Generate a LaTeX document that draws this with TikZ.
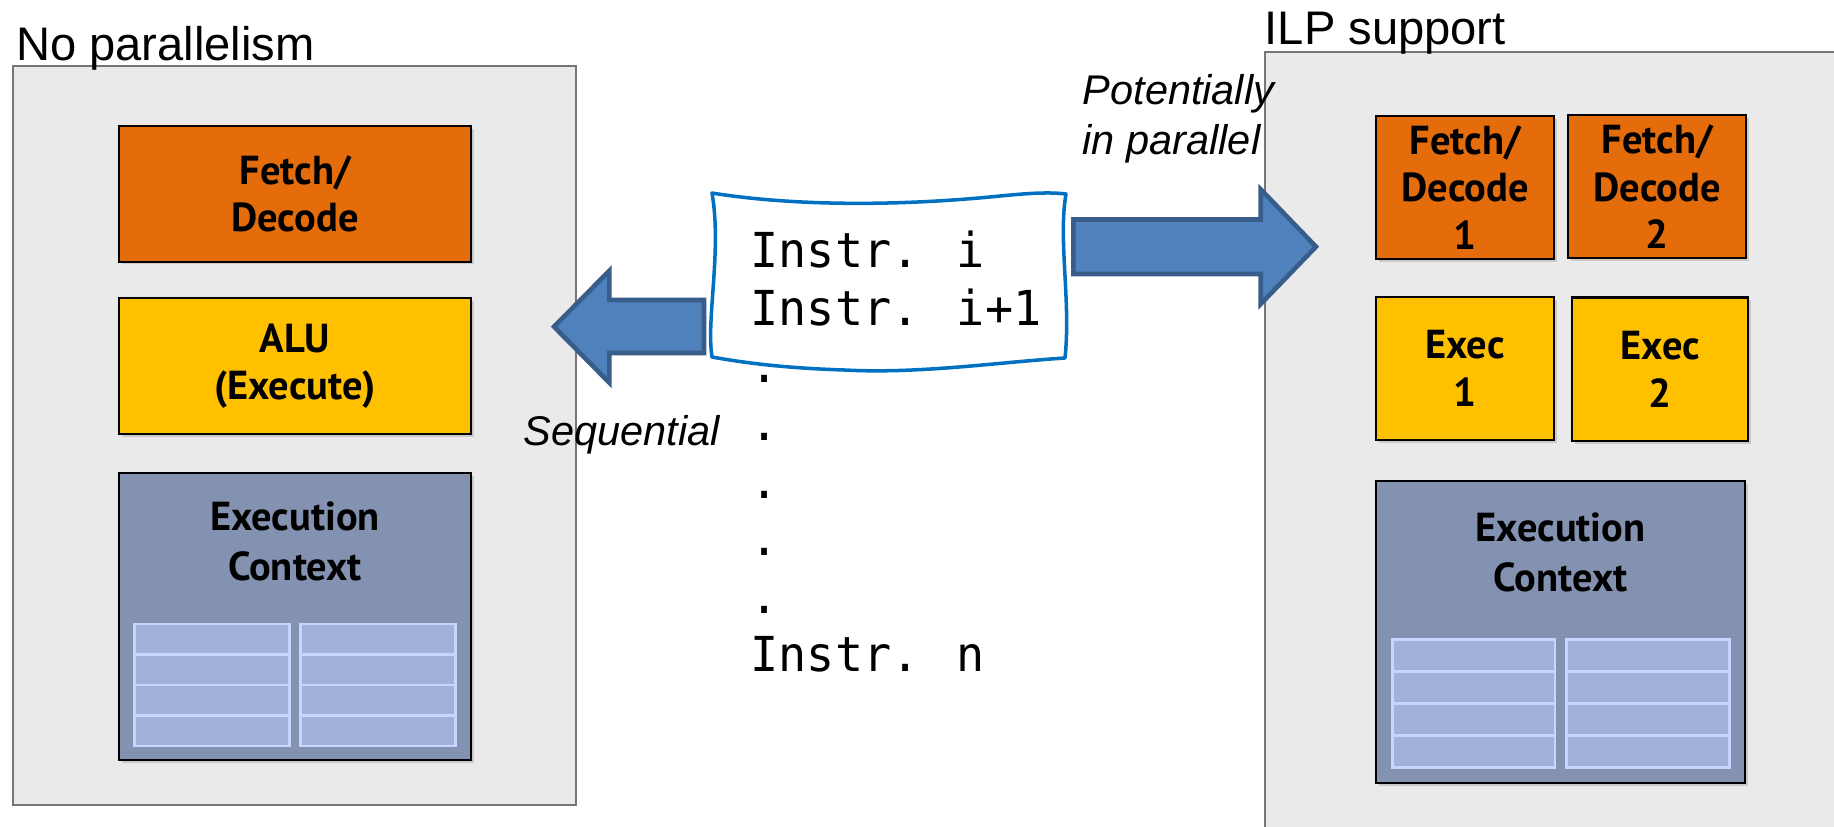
\documentclass[tikz,border=0pt]{standalone}
\usepackage{fontspec}
\setmainfont{Liberation Sans}
\newfontfamily\unitfont{PT Sans}
\newfontfamily\codefont[FakeStretch=0.97]{DejaVu Sans Mono}
\usepackage{tikz}
\usetikzlibrary{positioning,shadows}
\newdimen\px
\px=0.01cm
\definecolor{fdorange}{RGB}{228,108,10}
\definecolor{aluyellow}{RGB}{255,192,0}
\definecolor{ctxblue}{RGB}{132,146,177}
\definecolor{regfill}{RGB}{161,178,216}
\definecolor{regline}{RGB}{200,214,255}
\definecolor{corefill}{RGB}{234,234,234}
\definecolor{coreline}{RGB}{118,118,118}
\definecolor{arrowfill}{RGB}{79,129,189}
\definecolor{arrowline}{RGB}{56,93,138}
\definecolor{instrblue}{RGB}{0,112,192}
\tikzset{
    raw unit/.style={rectangle, draw=black, line width=0.6pt, inner sep=0pt, align=center,
        font=\unitfont\bfseries\fontsize{11.5}{13.6}\selectfont,
        drop shadow={shadow xshift=0.8pt, shadow yshift=-0.8pt, opacity=0.3}},
    fd unit/.style={raw unit, fill=fdorange},
    alu unit/.style={raw unit, fill=aluyellow},
    ctx unit/.style={raw unit, fill=ctxblue},
    ctx text/.style={inner sep=0pt, align=center, font=\unitfont\bfseries\fontsize{11.5}{14.2}\selectfont},
    core/.style={draw=coreline, line width=0.5pt, fill=corefill},
    reg/.style={draw=regline, line width=0.7pt, fill=regfill},
    title/.style={inner sep=0pt, anchor=base west, font=\fontsize{13.4}{16}\selectfont},
    note/.style={inner sep=0pt, align=left, font=\itshape\fontsize{11.8}{14}\selectfont},
    code/.style={inner sep=0pt, align=left, font=\codefont\fontsize{13.7}{16.4}\selectfont},
    big arrow/.style={fill=arrowfill, draw=arrowline, line width=1.3pt, line join=miter}
}

\begin{document}
\begin{tikzpicture}[x=\px, y=-\px]
    \clip (0,0) rectangle (1834,826);

    % the two cores
    \draw[core] (13.3,65.7) rectangle (576,805);
    \draw[core] (1265,52.3) rectangle (1860,860);
    \node[title] (nopartitle) at (15.5,60) {No parallelism};
    \node[title] (ilptitle) at (1264,44.3) {ILP support};

    % single pipeline
    \node[fd unit, minimum width=351.4\px, minimum height=135.7\px] (fd) at (295,193.8) {Fetch/\\Decode};
    \node[alu unit, minimum width=351.4\px, minimum height=136.3\px] (alu) at (295,366.2) {ALU\\(Execute)};
    \node[ctx unit, minimum width=351.4\px, minimum height=286.7\px] (ctxl) at (295,616.7) {};
    \node[ctx text, below=8.2pt of ctxl.north] {Execution\\Context};
    \foreach \x in {134.3,300.7}
        \foreach \r in {0,...,3}
            \draw[reg] (\x,624+\r*30.5) rectangle ++(155,30.5);

    % two-wide pipeline
    \node[fd unit, minimum width=178.3\px, minimum height=143\px] (fda) at (1465.2,187.5) {Fetch/\\Decode\\1};
    \node[fd unit, minimum width=177.7\px, minimum height=143.3\px] (fdb) at (1657.2,186.7) {Fetch/\\Decode\\2};
    \node[alu unit, minimum width=178\px, minimum height=143\px] (exa) at (1465,368.5) {Exec\\1};
    \node[alu unit, minimum width=176.3\px, minimum height=143.2\px] (exb) at (1660.2,369.1) {Exec\\2};
    \node[ctx unit, minimum width=368.7\px, minimum height=301.7\px] (ctxr) at (1560.7,631.9) {};
    \node[ctx text, below=9pt of ctxr.north] {Execution\\Context};
    \foreach \x in {1392.3,1566.7}
        \foreach \r in {0,...,3}
            \draw[reg] (\x,639.3+\r*32) rectangle ++(162.6,32);

    % instruction stream
    \draw[instrblue, line width=1pt, line join=round]
        (712,193) .. controls (780,204) and (880,208) .. (1000,196)
        .. controls (1030,193) and (1050,192) .. (1066,194)
        .. controls (1058,240) and (1071,300) .. (1065,358)
        .. controls (1000,362) and (920,374) .. (845,370)
        .. controls (780,368) and (740,362) .. (712,357)
        .. controls (706,320) and (722,250) .. (712,193) -- cycle;
    \node[code, anchor=north west] (prog) at (750,230) {Instr. i\\Instr. i+1\\.\\.\\.\\.\\.\\Instr. n};

    \draw[big arrow] (554,326.7) -- (609.3,270.7) -- (609.3,300) -- (704,300)
        -- (704,353) -- (609.3,353) -- (609.3,382.7) -- cycle;
    \draw[big arrow] (1316,246.7) -- (1260.7,189.3) -- (1260.7,219.5) -- (1073.3,219.5)
        -- (1073.3,274) -- (1260.7,274) -- (1260.7,304) -- cycle;

    \node[note, anchor=base west] (seq) at (523,445) {Sequential};
    \node[note, anchor=north west] (par) at (1082,74) {Potentially\\in parallel};
\end{tikzpicture}
\end{document}
